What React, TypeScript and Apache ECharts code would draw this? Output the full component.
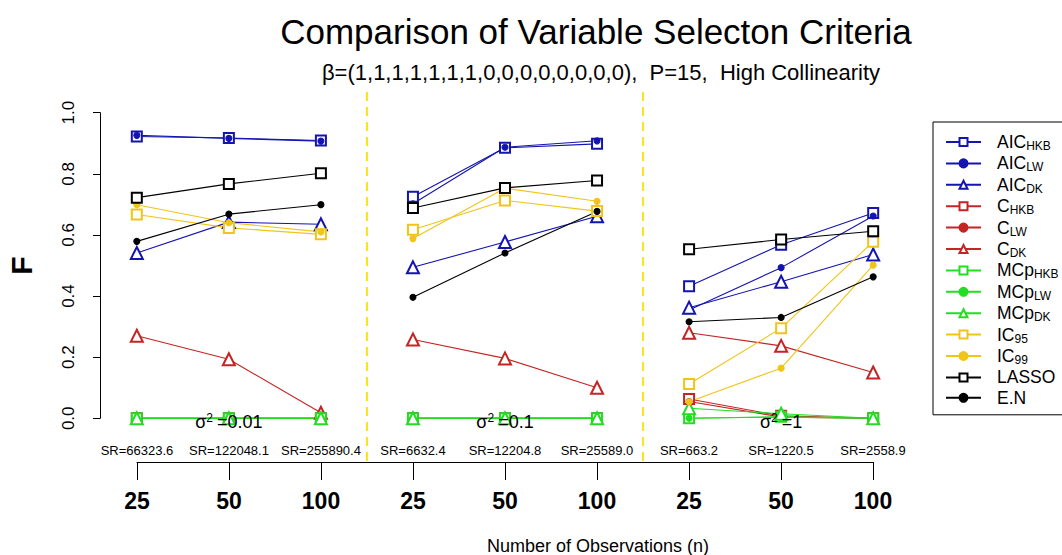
import React, { useEffect, useRef } from "react";
import * as echarts from "echarts";

// ---- data ----
const nLabels = ["25", "50", "100"];
const srLabels = [
  "SR=66323.6", "SR=122048.1", "SR=255890.4",
  "SR=6632.4", "SR=12204.8", "SR=25589.0",
  "SR=663.2", "SR=1220.5", "SR=2558.9",
];
const sigmaLabels = ["0.01", "0.1", "1"];
const yTicks = [0, 0.2, 0.4, 0.6, 0.8, 1.0];

const aicHKB = [0.922, 0.917, 0.909, 0.725, 0.885, 0.898, 0.432, 0.568, 0.672];
const aicLW = [0.926, 0.916, 0.907, 0.702, 0.887, 0.908, 0.354, 0.493, 0.662];
const aicDK = [0.541, 0.642, 0.635, 0.494, 0.577, 0.661, 0.362, 0.447, 0.536];
const cHKB = [0, 0, 0, 0, 0, 0, 0.063, 0.008, 0];
const cLW = [0, 0, 0, 0, 0, 0, 0.055, 0.004, 0];
const cDK = [0.27, 0.193, 0.018, 0.258, 0.196, 0.1, 0.28, 0.237, 0.15];
const mcpHKB = [0, 0, 0, 0, 0, 0, 0, 0.005, 0];
const mcpLW = [0, 0, 0, 0, 0, 0, 0, 0.004, 0];
const mcpDK = [0, 0, 0, 0, 0, 0, 0.033, 0.015, 0];
const ic95 = [0.667, 0.623, 0.602, 0.617, 0.713, 0.678, 0.112, 0.295, 0.578];
const ic99 = [0.699, 0.64, 0.61, 0.588, 0.753, 0.71, 0.054, 0.164, 0.501];
const lasso = [0.722, 0.767, 0.802, 0.688, 0.754, 0.778, 0.553, 0.585, 0.612];
const en = [0.579, 0.668, 0.699, 0.396, 0.541, 0.677, 0.316, 0.33, 0.463];

const seriesNames = [
  "AIC_HKB", "AIC_LW", "AIC_DK",
  "C_HKB", "C_LW", "C_DK",
  "MCp_HKB", "MCp_LW", "MCp_DK",
  "IC_95", "IC_99", "LASSO", "E.N",
];
const seriesValues = [aicHKB, aicLW, aicDK, cHKB, cLW, cDK, mcpHKB, mcpLW, mcpDK, ic95, ic99, lasso, en];

// ---- styles ----
const FONT = "Liberation Sans";
const BLUE = "#1414b0";
const RED = "#c42424";
const GREEN = "#22dd22";
const GOLD = "#f2c418";
const BLACK = "#000000";
const seriesColors = [BLUE, BLUE, BLUE, RED, RED, RED, GREEN, GREEN, GREEN, GOLD, GOLD, BLACK, BLACK];
const seriesSymbols = [
  "emptyRect", "circle", "emptyTriangle",
  "emptyRect", "circle", "emptyTriangle",
  "emptyRect", "circle", "emptyTriangle",
  "emptyRect", "circle", "emptyRect", "circle",
];
const symbolSizeOf = (s: string) => (s === "circle" ? 6 : s === "emptyRect" ? 10 : 12);

function toData(vals: number[]) {
  const out: any[] = [];
  vals.forEach((v, i) => {
    out.push([i, v]);
    if (i % 3 === 2 && i < vals.length - 1) out.push([i + 0.5, "-"]);
  });
  return out;
}

export default function App() {
  const ref = useRef<HTMLDivElement>(null);
  useEffect(() => {
    document.body.style.margin = "0";
    const chart = echarts.init(ref.current!, null, { renderer: "svg" });
    const series = seriesNames.map((name, k) => ({
      name,
      type: "line",
      xAxisIndex: 0,
      yAxisIndex: 0,
      data: toData(seriesValues[k]),
      symbol: seriesSymbols[k],
      symbolSize: symbolSizeOf(seriesSymbols[k]),
      connectNulls: false,
      clip: false,
      color: seriesColors[k],
      lineStyle: { width: 1.1, color: seriesColors[k] },
      itemStyle: { color: seriesColors[k], borderColor: seriesColors[k], borderWidth: 1.1 },
    }));
    const option: any = {
      animation: false,
      textStyle: { fontFamily: FONT },
      grid: [
        { left: 100, width: 810, top: 112.7, height: 305.6, outerBoundsMode: "none" },
        { left: 137, width: 736, top: 112.7, height: 305.6, outerBoundsMode: "none" },
      ],
      xAxis: [
        { type: "value", gridIndex: 0, min: -0.4, max: 8.4, show: false },
        {
          type: "value", gridIndex: 1, min: 0, max: 8, interval: 1, position: "bottom", offset: 43.7,
          axisLine: { show: true, onZero: false, lineStyle: { color: "#000", width: 1 } },
          axisTick: { show: true, length: 18, lineStyle: { color: "#000", width: 1 } },
          splitLine: { show: false },
          axisLabel: {
            margin: 27, fontSize: 23, fontWeight: "bold", color: "#000", fontFamily: FONT,
            showMinLabel: true, showMaxLabel: true,
            formatter: (v: number) => nLabels[Math.round(v) % 3],
          },
        },
        {
          type: "value", gridIndex: 1, min: 0, max: 8, interval: 1, position: "bottom", offset: 20,
          axisLine: { show: false, onZero: false }, axisTick: { show: false }, splitLine: { show: false },
          axisLabel: {
            margin: 6, fontSize: 13, color: "#000", fontFamily: FONT,
            showMinLabel: true, showMaxLabel: true, hideOverlap: false,
            formatter: (v: number) => srLabels[Math.round(v)],
          },
        },
      ],
      yAxis: [
        {
          type: "value", gridIndex: 0, min: 0, max: 1, interval: 0.2,
          name: "F", nameLocation: "middle", nameGap: 64, nameRotate: 90,
          nameTextStyle: { fontSize: 30, fontWeight: "bold", color: "#000", fontFamily: FONT },
          axisLine: { show: true, onZero: false, lineStyle: { color: "#000", width: 1 } },
          axisTick: { show: true, length: 7, lineStyle: { color: "#000" } },
          splitLine: { show: false },
          axisLabel: {
            rotate: 90, margin: 23, fontSize: 17, color: "#000", fontFamily: FONT,
            formatter: (v: number) => (yTicks.some((t) => Math.abs(t - v) < 1e-9) ? v.toFixed(1) : ""),
          },
        },
        { type: "value", gridIndex: 1, min: 0, max: 1, show: false },
      ],
      legend: {
        orient: "vertical",
        left: 933,
        top: 122,
        padding: [11, 90, 8, 12],
        borderColor: "#000",
        borderWidth: 1,
        borderRadius: 0,
        itemWidth: 35,
        itemHeight: 10,
        itemGap: 2.4,
        selectedMode: false,
        lineStyle: { width: 2 },
        data: seriesNames,
        formatter: (name: string) => {
          const [m, s] = name.split("_");
          return s ? `{f|${m}}{s|${s}}` : `{f|${m}}`;
        },
        textStyle: {
          color: "#000",
          fontFamily: FONT,
          rich: {
            f: { fontSize: 17.5, lineHeight: 20, fontFamily: FONT, color: "#000", padding: [0, 0, 0, 11] },
            s: { fontSize: 12, lineHeight: 12, verticalAlign: "bottom", fontFamily: FONT, color: "#000" },
          },
        },
      },
      series,
    };
    chart.setOption(option);

    const px = (x: number) => chart.convertToPixel({ xAxisIndex: 0 }, x) as number;
    const py = (y: number) => chart.convertToPixel({ yAxisIndex: 0 }, y) as number;
    const graphics: any[] = [
      {
        type: "text", x: 596, y: 31,
        style: { text: "Comparison of Variable Selecton Criteria", font: `35px '${FONT}'`, fill: "#000", align: "center", verticalAlign: "middle" },
      },
      {
        type: "text", x: 601, y: 72,
        style: { text: "β=(1,1,1,1,1,1,1,0,0,0,0,0,0,0,0),  P=15,  High Collinearity", font: `22px '${FONT}'`, fill: "#000", align: "center", verticalAlign: "middle" },
      },
      {
        type: "text", x: 598, y: 546,
        style: { text: "Number of Observations (n)", font: `18px '${FONT}'`, fill: "#000", align: "center", verticalAlign: "middle" },
      },
    ];
    [2.5, 5.5].forEach((xv) => {
      graphics.push({
        type: "line", silent: true,
        shape: { x1: px(xv), y1: 92, x2: px(xv), y2: 462 },
        style: { stroke: "#f7e41a", lineWidth: 2, lineDash: [9, 6] },
      });
    });
    sigmaLabels.forEach((s, p) => {
      graphics.push({
        type: "text", x: px(p * 3 + 1), y: py(0) + 4, z: 100,
        style: {
          text: `{a|σ}{b|2}{a|=${s}}`,
          align: "center", verticalAlign: "middle",
          rich: {
            a: { fontSize: 18, lineHeight: 20, fontFamily: FONT, fill: "#000" },
            b: { fontSize: 12, lineHeight: 12, verticalAlign: "top", fontFamily: FONT, fill: "#000", padding: [0, 4, 0, 0] },
          },
        },
      });
    });
    chart.setOption({ graphic: graphics });
    return () => chart.dispose();
  }, []);
  return <div ref={ref} style={{ width: 1062, height: 555 }} />;
}
